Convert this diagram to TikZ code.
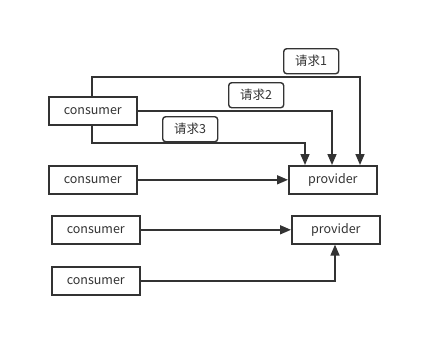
\documentclass[tikz,border=0pt]{standalone}
\usepackage{fontspec}
\setmainfont{Noto Sans CJK SC}
\usetikzlibrary{arrows.meta}
\definecolor{ink}{HTML}{333333}
\begin{document}
\begin{tikzpicture}[x=1pt,y=-1pt,
  box/.style={draw=ink,line width=1.6pt,minimum width=88pt,minimum height=28pt,inner sep=0pt,font=\fontsize{12.5}{14}\selectfont,text=ink,anchor=north west},
  tag/.style={draw=ink,line width=1.4pt,rounded corners=3pt,minimum width=55pt,minimum height=25pt,inner sep=0pt,font=\fontsize{12.5}{14}\selectfont,text=ink,anchor=north west},
  link/.style={draw=ink,line width=1.6pt,-{Triangle[length=11pt,width=9pt]}}]
\useasboundingbox (0,0) rectangle (441,357);
\node[box] (c1) at (48,96) {consumer};
\node[box] (c2) at (48,165) {consumer};
\node[box] (p1) at (288,165) {provider};
\node[box] (c3) at (51,215) {consumer};
\node[box] (p2) at (291,215) {provider};
\node[box] (c4) at (51,266) {consumer};
\node[tag] (t1) at (283,48) {请求1};
\node[tag] (t2) at (228,82) {请求2};
\node[tag] (t3) at (162,116) {请求3};
\coordinate (a1) at (92,77);
\coordinate (a3) at (92,143);
\draw[link] (c1.north -| a1) -- (a1) -- (a1 -| {(360,0)}) -- ({(360,0)} |- p1.north);
\draw[link] (c1.east) -- ({(332,0)} |- c1.east) -- ({(332,0)} |- p1.north);
\draw[link] (c1.south -| a3) -- (a3) -- (a3 -| {(305,0)}) -- ({(305,0)} |- p1.north);
\draw[link] (c2.east) -- (p1.west);
\draw[link] (c3.east) -- (p2.west);
\draw[link] (c4.east) -- (c4.east -| {(335,0)}) -- ({(335,0)} |- p2.south);
\end{tikzpicture}
\end{document}
